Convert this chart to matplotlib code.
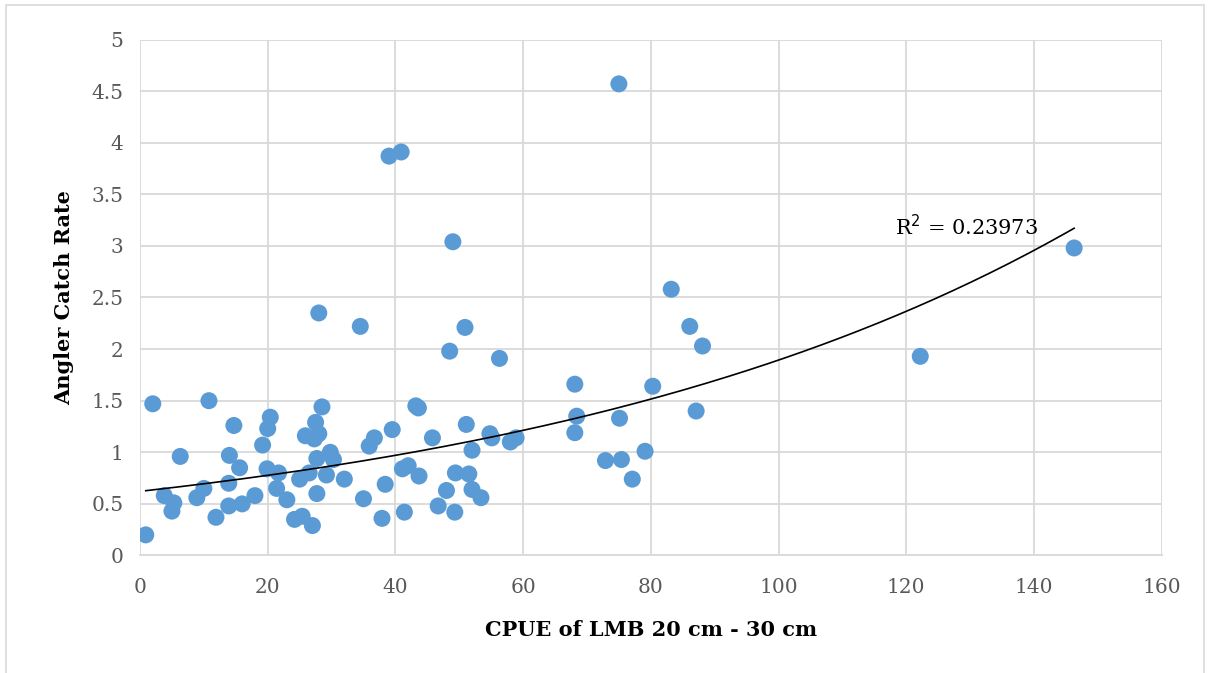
import numpy as np
import matplotlib
matplotlib.use('Agg')
import matplotlib.pyplot as plt
from matplotlib.patches import Rectangle

# CPUE of LMB 20-30 cm vs angler catch rate
cpue = [0.9, 2.0, 3.8, 5.3, 5.0, 6.3, 8.9, 10.0, 10.8, 11.9,
        14.7, 14.0, 13.9, 13.9, 15.6, 16.0, 18.0, 19.2, 20.0, 19.9,
        20.4, 21.4, 21.7, 23.0, 24.2, 25.0, 25.4, 25.9, 26.5, 27.0,
        27.3, 27.5, 27.7, 27.7, 28.0, 28.0, 28.5, 29.2, 29.8, 30.3,
        32.0, 34.5, 35.0, 35.9, 36.7, 37.9, 38.4, 39.0, 39.5, 40.9,
        41.1, 41.4, 42.0, 43.2, 43.6, 43.7, 45.8, 46.7, 48.0, 48.5,
        49.0, 49.3, 49.4, 50.9, 51.1, 51.5, 52.0, 52.0, 53.4, 54.8,
        55.1, 56.3, 58.0, 58.9, 68.1, 68.1, 68.4, 72.9, 75.1, 75.0,
        75.4, 77.1, 79.1, 80.3, 83.2, 86.1, 87.1, 88.1, 122.2, 146.3]
catch_rate = [0.20, 1.47, 0.58, 0.51, 0.43, 0.96, 0.56, 0.65, 1.50, 0.37,
              1.26, 0.97, 0.70, 0.48, 0.85, 0.50, 0.58, 1.07, 1.23, 0.84,
              1.34, 0.65, 0.80, 0.54, 0.35, 0.74, 0.38, 1.16, 0.80, 0.29,
              1.13, 1.29, 0.94, 0.60, 2.35, 1.18, 1.44, 0.78, 1.00, 0.93,
              0.74, 2.22, 0.55, 1.06, 1.14, 0.36, 0.69, 3.87, 1.22, 3.91,
              0.84, 0.42, 0.87, 1.45, 1.43, 0.77, 1.14, 0.48, 0.63, 1.98,
              3.04, 0.42, 0.80, 2.21, 1.27, 0.79, 1.02, 0.64, 0.56, 1.18,
              1.14, 1.91, 1.10, 1.14, 1.66, 1.19, 1.35, 0.92, 1.33, 4.57,
              0.93, 0.74, 1.01, 1.64, 2.58, 2.22, 1.40, 2.03, 1.93, 2.98]
r2_label = 'R$^2$ = 0.23973'

x = np.array(cpue)
y = np.array(catch_rate)

# exponential trend y = a*exp(b*x), fitted on log(y)
b, ln_a = np.polyfit(x, np.log(y), 1)
xt = np.linspace(x.min(), x.max(), 200)
yt = np.exp(ln_a) * np.exp(b * xt)

plt.rcParams['font.family'] = ['DejaVu Serif']

fig = plt.figure(figsize=(12.09, 6.73), dpi=100)
ax = fig.add_axes([0.1158, 0.1746, 0.8450, 0.7667])

ax.scatter(x, y, s=150, color='#5b9bd5', edgecolors='none', zorder=3)
ax.plot(xt, yt, color='black', lw=1.2, zorder=4)
ax.text(118.3, 3.19, r2_label, fontsize=15, va='center', ha='left')

ax.set_xlim(0, 160)
ax.set_ylim(0, 5)
ax.set_xticks(np.arange(0, 161, 20))
ax.set_yticks(np.arange(0, 5.01, 0.5))
ax.set_yticklabels(['0', '0.5', '1', '1.5', '2', '2.5', '3', '3.5', '4', '4.5', '5'])
ax.grid(True, color='#d9d9d9', lw=1.3)
ax.set_axisbelow(True)
for s in ['top', 'right', 'left']:
    ax.spines[s].set_visible(False)
ax.spines['bottom'].set_color('#d9d9d9')
ax.spines['bottom'].set_linewidth(1.3)
ax.tick_params(length=0, labelsize=14.5, labelcolor='#595959', pad=12)
ax.tick_params(axis='x', pad=16)

ax.set_xlabel('CPUE of LMB 20 cm - 30 cm', fontsize=15, fontweight='bold', labelpad=17)
ax.set_ylabel('Angler Catch Rate', fontsize=15, fontweight='bold', labelpad=12)

# outer chart border
fig.patches.append(Rectangle((0.005, -0.01), 0.991, 1.003, transform=fig.transFigure,
                             fill=False, edgecolor='#d9d9d9', lw=1.2))

fig.savefig('out.png', dpi=100)
